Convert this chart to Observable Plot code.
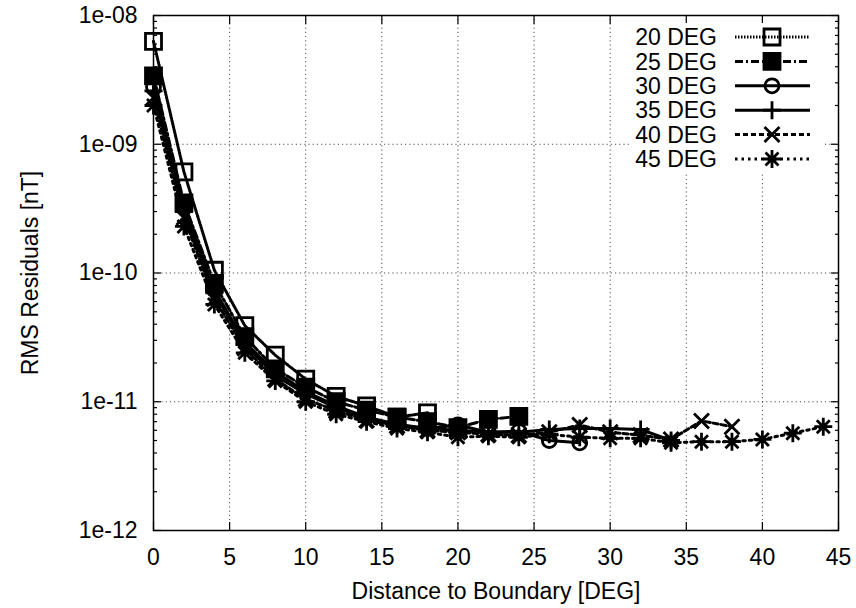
<!DOCTYPE html>
<html><head><meta charset="utf-8">
<script src="https://cdn.jsdelivr.net/npm/d3@7"></script>
<script src="https://cdn.jsdelivr.net/npm/@observablehq/plot@0.6"></script>
<style>
html,body{margin:0;padding:0;background:#fff;}
#chart{width:856px;height:608px;}
</style></head><body><div id="chart"></div>
<script>
// ---- data ----
const seriesNames = ["20 DEG", "25 DEG", "30 DEG", "35 DEG", "40 DEG", "45 DEG"];
const distances = [0, 2, 4, 6, 8, 10, 12, 14, 16, 18, 20, 22, 24, 26, 28, 30, 32, 34, 36, 38, 40, 42, 44];
const rms20 = [6.3e-9, 6.1e-10, 1.05e-10, 3.9e-11, 2.3e-11, 1.5e-11, 1.1e-11, 9.3e-12, 7.6e-12, 8.2e-12];
const rms25 = [3.4e-9, 3.5e-10, 8.3e-11, 3.2e-11, 1.8e-11, 1.3e-11, 1.0e-11, 8.6e-12, 7.6e-12, 7.0e-12, 6.3e-12, 7.3e-12, 7.7e-12];
const rms30 = [2.8e-9, 3.2e-10, 7.4e-11, 2.9e-11, 1.7e-11, 1.2e-11, 9.3e-12, 7.6e-12, 6.7e-12, 6.2e-12, 6.6e-12, 5.8e-12, 5.9e-12, 5.0e-12, 4.8e-12];
const rms35 = [2.6e-9, 3.0e-10, 7.0e-11, 2.8e-11, 1.6e-11, 1.15e-11, 9.0e-12, 7.4e-12, 6.6e-12, 6.2e-12, 6.0e-12, 5.8e-12, 5.8e-12, 6.1e-12, 6.2e-12, 6.2e-12, 6.1e-12, 5.0e-12];
const rms40 = [2.3e-9, 2.7e-10, 6.3e-11, 2.6e-11, 1.5e-11, 1.05e-11, 8.5e-12, 7.2e-12, 6.5e-12, 6.0e-12, 5.8e-12, 5.6e-12, 5.5e-12, 5.8e-12, 6.6e-12, 5.8e-12, 5.5e-12, 5.1e-12, 7.1e-12, 6.4e-12];
const rms45 = [2.0e-9, 2.3e-10, 5.7e-11, 2.4e-11, 1.45e-11, 1.0e-11, 8.0e-12, 7.0e-12, 6.2e-12, 5.8e-12, 5.3e-12, 5.4e-12, 5.3e-12, 5.6e-12, 5.3e-12, 5.2e-12, 5.2e-12, 4.8e-12, 4.9e-12, 4.9e-12, 5.1e-12, 5.7e-12, 6.4e-12];
const xTicks = [0, 5, 10, 15, 20, 25, 30, 35, 40, 45];
const yTicks = [1e-12, 1e-11, 1e-10, 1e-9, 1e-8];
const yTickLabels = ["1e-12", "1e-11", "1e-10", "1e-09", "1e-08"];
const xLabel = "Distance to Boundary [DEG]";
const yLabel = "RMS Residuals [nT]";

// ---- build table ----
const allValues = [rms20, rms25, rms30, rms35, rms40, rms45];
const table = seriesNames.map((name, s) => allValues[s].map((v, i) => ({series: name, x: distances[i], y: v})));

const yMinor = [];
for (let k = 0; k < yTicks.length - 1; k++) for (let m = 2; m <= 9; m++) yMinor.push(m * yTicks[k]);

// ---- symbols (gnuplot style) ----
const symSquare = {draw(c) { c.moveTo(-8, -8); c.lineTo(8, -8); c.lineTo(8, 8); c.lineTo(-8, 8); c.closePath(); }};
const symCircle = {draw(c) { c.moveTo(7, 0); c.arc(0, 0, 7, 0, 2 * Math.PI); }};
const symPlus = {draw(c) { c.moveTo(-9, 0); c.lineTo(9, 0); c.moveTo(0, -9); c.lineTo(0, 9); }};
const symTimes = {draw(c) { c.moveTo(-7.5, -7.5); c.lineTo(7.5, 7.5); c.moveTo(-7.5, 7.5); c.lineTo(7.5, -7.5); }};
const symStar = {draw(c) { c.moveTo(-9, 0); c.lineTo(9, 0); c.moveTo(0, -9); c.lineTo(0, 9); c.moveTo(-6.5, -6.5); c.lineTo(6.5, 6.5); c.moveTo(-6.5, 6.5); c.lineTo(6.5, -6.5); }};

const styles = [
  {dash: "1.5,1.5", sym: symSquare, fill: "none", width: 3},
  {dash: "8,3,2,3", sym: symSquare, fill: "black", width: 3},
  {dash: null, sym: symCircle, fill: "none", width: 3},
  {dash: null, sym: symPlus, fill: "none", width: 3},
  {dash: "5,3", sym: symTimes, fill: "none", width: 3},
  {dash: "2.5,4", sym: symStar, fill: "none", width: 3}
];

const FS = 23;
const FONT = "'Liberation Sans', Arial, Helvetica, sans-serif";
const gridStyle = {stroke: "black", strokeOpacity: 0.7, strokeWidth: 1, strokeDasharray: "1.2,3"};

const marks = [
  Plot.gridX({ticks: xTicks.slice(1, -1), ...gridStyle}),
  Plot.gridY({ticks: yTicks.slice(1, -1), ...gridStyle}),
  Plot.frame({stroke: "black", strokeWidth: 1.5}),
  // labels
  Plot.axisY({ticks: yTicks, tickSize: 0, tickPadding: 16, tickFormat: (d) => yTickLabels[yTicks.indexOf(d)], fontSize: FS, label: null}),
  Plot.axisX({ticks: xTicks, tickSize: 0, tickPadding: 18, fontSize: FS, label: null}),
  // inward ticks
  Plot.axisY({ticks: yTicks, tickSize: 8, dx: 8, tickFormat: () => "", label: null, strokeWidth: 1.2}),
  Plot.axisY({ticks: yMinor, tickSize: 4, dx: 4, tickFormat: () => "", label: null, strokeWidth: 1.2}),
  Plot.axisY({anchor: "right", ticks: yTicks, tickSize: 8, dx: -8, tickFormat: () => "", label: null, strokeWidth: 1.2}),
  Plot.axisY({anchor: "right", ticks: yMinor, tickSize: 4, dx: -4, tickFormat: () => "", label: null, strokeWidth: 1.2}),
  Plot.axisX({ticks: xTicks, tickSize: 8, dy: -8, tickFormat: () => "", label: null, strokeWidth: 1.2}),
  Plot.axisX({anchor: "top", ticks: xTicks, tickSize: 8, dy: 8, tickFormat: () => "", label: null, strokeWidth: 1.2}),
  Plot.text([xLabel], {frameAnchor: "bottom", dy: 52, lineAnchor: "top", textAnchor: "middle", text: (d) => d, fontSize: FS}),
  Plot.text([yLabel], {frameAnchor: "left", dx: -123, rotate: -90, textAnchor: "middle", lineAnchor: "middle", text: (d) => d, fontSize: FS})
];

table.forEach((rows, s) => {
  const st = styles[s];
  marks.push(Plot.line(rows, {x: "x", y: "y", stroke: "black", strokeWidth: st.width, strokeDasharray: st.dash}));
  marks.push(Plot.dot(rows, {x: "x", y: "y", symbol: st.sym, stroke: "black", strokeWidth: 2.8, fill: st.fill}));
});

const chart = Plot.plot({
  width: 856, height: 608,
  marginLeft: 153, marginRight: 18, marginTop: 15, marginBottom: 78,
  style: {fontFamily: FONT, fontSize: FS + "px", background: "white", color: "black"},
  x: {domain: [0, 45]},
  y: {type: "log", domain: [1e-12, 1e-8]},
  marks
});

// ---- legend (gnuplot key, top right) ----
const svg = d3.select(chart);
const g = svg.append("g").attr("font-family", FONT).attr("font-size", FS);
g.append("rect").attr("x", 630).attr("y", 23).attr("width", 194).attr("height", 150).attr("fill", "white");
seriesNames.forEach((name, s) => {
  const st = styles[s];
  const cy = 37 + s * 24.4;
  g.append("text").attr("x", 717).attr("y", cy).attr("dy", "0.36em").attr("text-anchor", "end").attr("fill", "black").text(name);
  g.append("line").attr("x1", 735).attr("x2", 810).attr("y1", cy).attr("y2", cy)
    .attr("stroke", "black").attr("stroke-width", st.width).attr("stroke-dasharray", st.dash);
  g.append("path").attr("transform", `translate(772,${cy})`).attr("d", d3.symbol().type(st.sym)())
    .attr("stroke", "black").attr("stroke-width", 2.8).attr("fill", st.fill === "none" ? "none" : "black");
});

document.getElementById("chart").appendChild(chart);
</script>
</body></html>
